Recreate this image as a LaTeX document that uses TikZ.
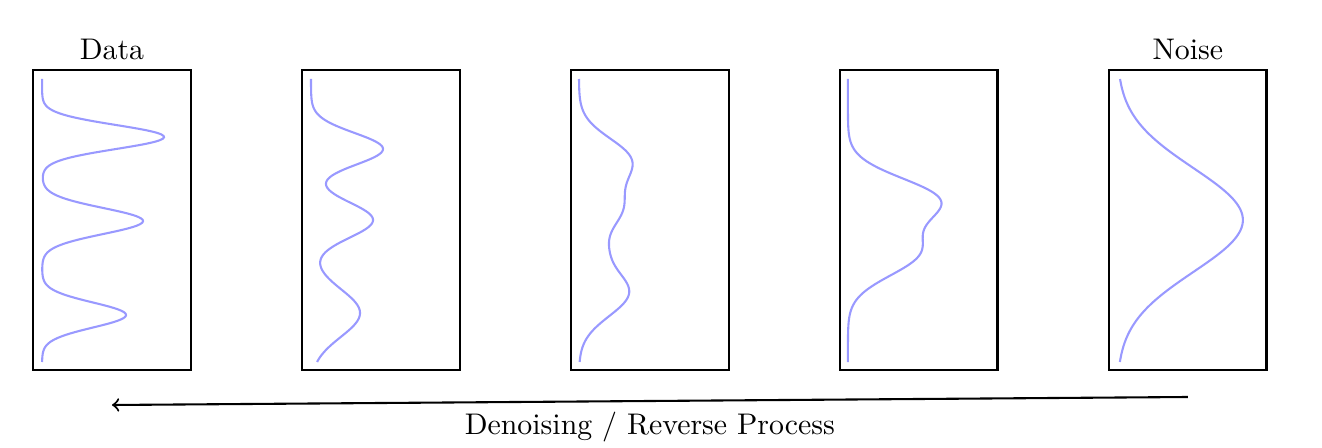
\documentclass[tikz,border=0pt]{standalone}
\usetikzlibrary{calc, positioning}
\definecolor{densityblue}{rgb}{0.6, 0.6, 1.0}

\begin{document}
\begin{tikzpicture}[x=0.335pt, y=-0.335pt,
	distbox/.style={draw, line width=0.9pt, minimum width=52.9pt, minimum height=100.5pt, inner sep=0pt, outer sep=0pt},
	density/.style={densityblue, line width=0.7pt, smooth, domain=9:292, samples=200, variable=\t}]
				\useasboundingbox (0,0) rectangle (1322,448);
				
				\node[distbox] (data) at (112,220) {};
				\node[above = 0cm of data] (datalabel) {Data};
				
				\node[distbox, right = 37.2pt of data] (stepone) {};
				\node[distbox, right = 37.2pt of stepone] (steptwo) {};
				\node[distbox, right = 37.2pt of steptwo] (stepthree) {};
				
				\node[distbox, right = 37.2pt of stepthree] (noise) {};
				\node[above = 0cm of noise] (noiselabel) {Noise};
				
				% densities, drawn from the top left corner of each box
				\draw[density, shift={(data.north west)}] plot ({9 + 122*exp(-((\t-67)/12)^2/2) + 101*exp(-((\t-151)/13)^2/2) + 84*exp(-((\t-245)/12.5)^2/2)}, \t);
				\draw[density, shift={(stepone.north west)}] plot ({9 + 72*exp(-((\t-79)/16)^2/2) + 62*exp(-((\t-150)/18)^2/2) + 49*exp(-((\t-243)/24)^2/2)}, \t);
				\draw[density, shift={(steptwo.north west)}] plot ({8 + 50*exp(-((\t-90)/22)^2/2) + 40*exp(-((\t-140)/22)^2/2) + 12*exp(-((\t-180)/15)^2/2) + 50*exp(-((\t-222)/24)^2/2)}, \t);
				\draw[density, shift={(stepthree.north west)}] plot ({8 + 88*exp(-((\t-130)/22)^2/2) + 68*exp(-((\t-183)/23)^2/2)}, \t);
				\draw[density, shift={(noise.north west)}] plot ({8 + 126*exp(-((\t-150)/52)^2/2)}, \t);
				
				\coordinate (revstart) at ($(noise.south) + (0,27)$);
				\coordinate (revend) at ($(data.south) + (0,35)$);
				\draw[->, line width=0.7pt] (revstart) -- node[below]{Denoising / Reverse Process} (revend);
				
				\end{tikzpicture}
\end{document}
